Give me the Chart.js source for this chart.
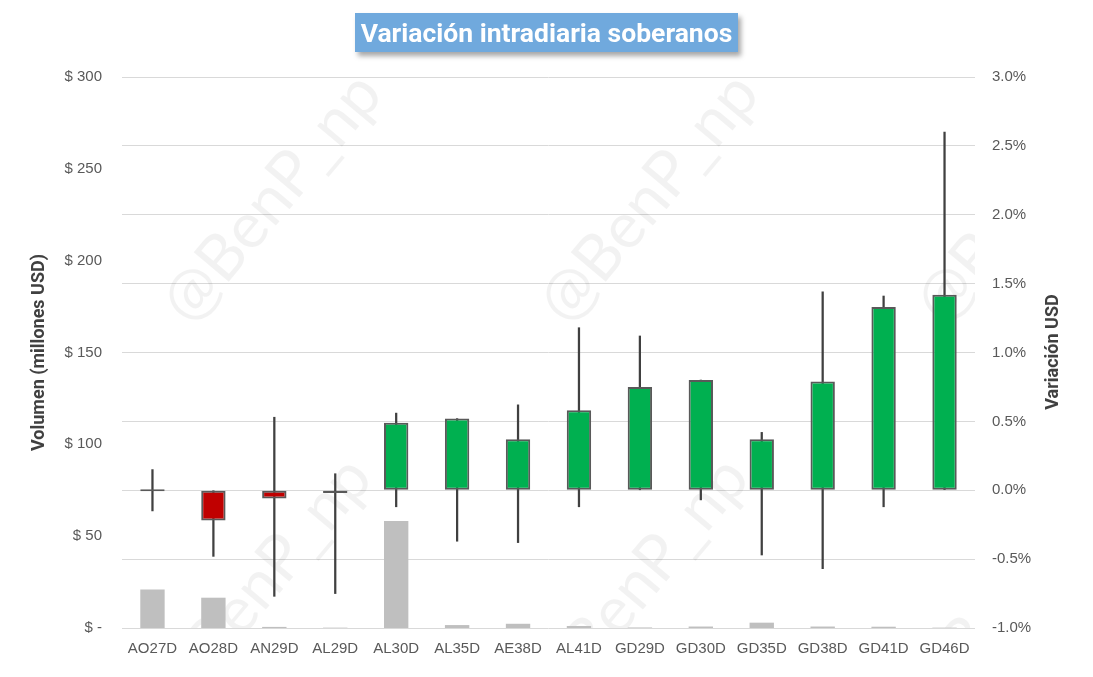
<!DOCTYPE html>
<html>
<head>
<meta charset="utf-8">
<script src="https://cdn.jsdelivr.net/npm/chart.js@4.4.1/dist/chart.umd.min.js"></script>
<style>
  html, body { margin: 0; padding: 0; background: #ffffff; }
  #wrap { position: relative; width: 1093px; height: 677px; }
  #title {
    position: absolute; left: 355px; top: 13px; width: 383px; height: 39px;
    background: #70A9DD; color: #ffffff;
    font-family: Roboto, "Liberation Sans", sans-serif; font-weight: 700; font-size: 26.5px;
    line-height: 39px; text-align: center; white-space: nowrap;
    box-shadow: 3px 4px 5px rgba(0,0,0,0.35);
    letter-spacing: 0px;
  }
  canvas { position: absolute; left: 0; top: 0; }
</style>
</head>
<body>
<div id="wrap">
  <canvas id="c" width="1093" height="677"></canvas>
  <div id="title">Variación intradiaria soberanos</div>
</div>
<script>
// ---- Data ----
const categories = ['AO27D','AO28D','AN29D','AL29D','AL30D','AL35D','AE38D','AL41D','GD29D','GD30D','GD35D','GD38D','GD41D','GD46D'];
// intraday variation in % (open is 0%)
const closeVar = [0.00, -0.22, -0.06, -0.02, 0.49, 0.52, 0.37, 0.58, 0.75, 0.80, 0.37, 0.79, 1.33, 1.42];
const highVar  = [0.15,  0.00,  0.53,  0.12, 0.56, 0.52, 0.62, 1.18, 1.12, 0.80, 0.42, 1.44, 1.41, 2.60];
const lowVar   = [-0.15, -0.48, -0.77, -0.75, -0.12, -0.37, -0.38, -0.12, 0.00, -0.07, -0.47, -0.57, -0.12, 0.00];
// volume in millions USD
const volume   = [21.0, 16.5, 0.6, 0.2, 58.3, 1.6, 2.3, 1.1, 0.3, 0.8, 2.9, 0.8, 0.7, 0.2];
const leftTicks  = [0, 50, 100, 150, 200, 250, 300];
const rightTicks = [-1.0, -0.5, 0.0, 0.5, 1.0, 1.5, 2.0, 2.5, 3.0];

const bodyData = closeVar.map(v => [0, v]);
const wickData = lowVar.map((l, i) => [l, highVar[i]]);
const bodyColors = closeVar.map(v => v > 0 ? '#00B050' : (v < 0 ? '#C00000' : '#595959'));

const tickFont = { family: '"Liberation Sans", Arial, sans-serif', size: 15 };
const tickColor = '#595959';

const watermarkPlugin = {
  id: 'watermark',
  beforeDatasetsDraw(chart) {
    const { ctx, chartArea } = chart;
    ctx.save();
    ctx.beginPath();
    ctx.rect(chartArea.left, chartArea.top, chartArea.right - chartArea.left, chartArea.bottom - chartArea.top);
    ctx.clip();
    ctx.fillStyle = 'rgba(0,0,0,0.05)';
    ctx.font = '400 64px Lato, "Open Sans", sans-serif';
    ctx.textAlign = 'center';
    ctx.textBaseline = 'middle';
    const spots = [[272, 198], [649, 198], [1026, 198], [262, 582], [639, 582], [1016, 582]];
    spots.forEach(([x, y]) => {
      ctx.save();
      ctx.translate(x, y);
      ctx.rotate(-50 * Math.PI / 180);
      ctx.fillText('@BenP_np', 0, 0);
      ctx.restore();
    });
    ctx.restore();
  }
};

const rightTitlePlugin = {
  id: 'rightTitle',
  afterDraw(chart) {
    const { ctx } = chart;
    ctx.save();
    ctx.translate(1053, 352);
    ctx.rotate(-Math.PI / 2);
    ctx.fillStyle = '#404040';
    ctx.font = '700 18px Roboto, sans-serif';
    ctx.textAlign = 'center';
    ctx.textBaseline = 'middle';
    ctx.fillText('Variación USD', 0, 0);
    ctx.restore();
  }
};

new Chart(document.getElementById('c'), {
  type: 'bar',
  data: {
    labels: categories,
    datasets: [
      {
        label: 'Cuerpo',
        data: bodyData,
        yAxisID: 'y1',
        grouped: false,
        order: 0,
        backgroundColor: bodyColors,
        borderColor: '#595959',
        borderWidth: 2,
        borderSkipped: false,
        minBarLength: 2,
        categoryPercentage: 1,
        barPercentage: 0.4
      },
      {
        label: 'Rango',
        data: wickData,
        yAxisID: 'y1',
        grouped: false,
        order: 1,
        backgroundColor: '#404040',
        borderWidth: 0,
        barThickness: 1.6
      },
      {
        label: 'Volumen',
        data: volume,
        yAxisID: 'y',
        grouped: false,
        order: 2,
        backgroundColor: '#BFBFBF',
        borderWidth: 0,
        categoryPercentage: 1,
        barPercentage: 0.4
      }
    ]
  },
  options: {
    responsive: false,
    animation: false,
    events: [],
    layout: { padding: { top: 77, left: 0, right: 0, bottom: 0 } },
    plugins: {
      legend: { display: false },
      tooltip: { enabled: false },
      title: { display: false }
    },
    scales: {
      x: {
        grid: { display: false, drawTicks: false },
        border: { display: false },
        ticks: { color: tickColor, font: tickFont, padding: 12, maxRotation: 0, autoSkip: false },
        afterFit(s) { s.height = 49; }
      },
      y: {
        position: 'left',
        min: 0, max: 300,
        grid: { display: false, drawTicks: false },
        border: { display: false },
        afterBuildTicks(s) { s.ticks = leftTicks.map(v => ({ value: v })); },
        ticks: {
          color: tickColor, font: tickFont, padding: 20,
          callback: v => v === 0 ? '$ -' : '$ ' + v
        },
        title: {
          display: true, text: 'Volumen (millones USD)', color: '#404040',
          font: { family: 'Roboto, sans-serif', weight: '700', size: 18 },
          padding: { top: 29, bottom: 0 }
        },
        afterFit(s) { s.width = 122; }
      },
      y1: {
        position: 'right',
        min: -1, max: 3,
        grid: { display: true, drawTicks: false, color: '#D9D9D9', lineWidth: 1 },
        border: { display: false },
        afterBuildTicks(s) { s.ticks = rightTicks.map(v => ({ value: v })); },
        ticks: {
          color: tickColor, font: tickFont, padding: 17,
          callback: v => v.toFixed(1) + '%'
        },
        afterFit(s) { s.width = 118; }
      }
    }
  },
  plugins: [watermarkPlugin, rightTitlePlugin]
});
</script>
</body>
</html>
